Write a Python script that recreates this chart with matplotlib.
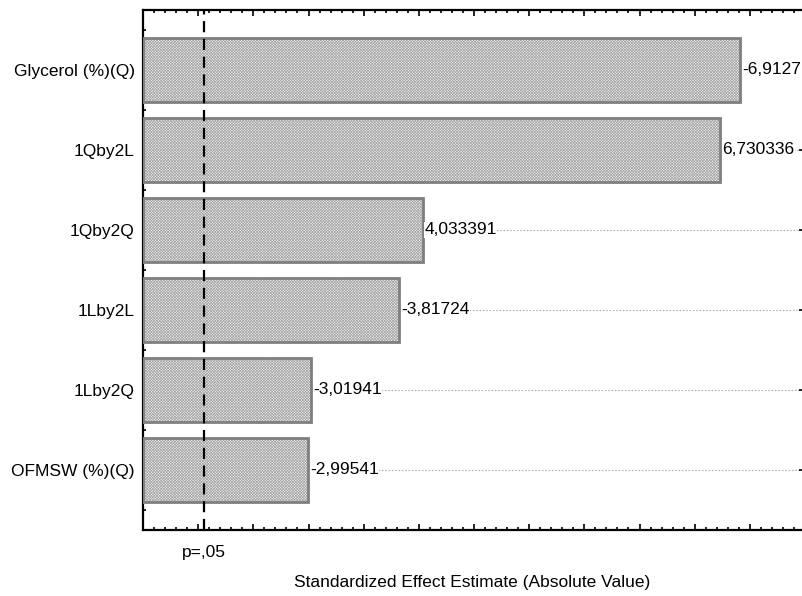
import numpy as np
import matplotlib.pyplot as plt
from matplotlib.ticker import MultipleLocator

plt.rcParams['font.family'] = ['Liberation Sans', 'DejaVu Sans']
plt.rcParams['hatch.linewidth'] = 0.5

# Pareto chart of standardized effects
effects = ['Glycerol (%)(Q)', '1Qby2L', '1Qby2Q', '1Lby2L', '1Lby2Q', 'OFMSW (%)(Q)']
estimates = [-6.9127, 6.730336, 4.033391, -3.81724, -3.01941, -2.99541]
labels = ['-6,9127', '6,730336', '4,033391', '-3,81724', '-3,01941', '-2,99541']
p_crit = 2.055

abs_est = np.abs(estimates)
ypos = np.arange(len(effects))
x_min, x_max = 1.5, 7.5
fs = 12.5

fig = plt.figure(figsize=(8.02, 5.96), dpi=100)
ax = fig.add_axes([143 / 802, 66 / 596, 662 / 802, 520 / 596])

# dotted guide lines from bar end to the right edge
ax.hlines(ypos, abs_est, x_max, colors='#b0b0b0', linestyles=(0, (1.5, 1.5)),
          linewidth=0.8, zorder=1)

# hatched fill, then grey outline
ax.barh(ypos, abs_est - x_min, left=x_min, height=0.8, color='#f2f2f2',
        edgecolor='#a4a4a4', hatch='x' * 12, linewidth=0, zorder=2)
ax.barh(ypos, abs_est - x_min, left=x_min, height=0.8, fill=False,
        edgecolor='#7f7f7f', linewidth=2, zorder=3)

for y, v, txt in zip(ypos, abs_est, labels):
    ax.text(v + 0.02, y, txt, va='center', ha='left', fontsize=fs,
            bbox=dict(facecolor='white', edgecolor='none', pad=0.3), zorder=4)

ax.axvline(p_crit, color='black', linestyle=(0, (5, 3)), linewidth=1.6, zorder=5)

ax.set_xlim(x_min, x_max)
ax.set_ylim(len(effects) - 0.25, -0.75)

ax.set_yticks(ypos)
ax.set_yticklabels(effects, fontsize=fs)
ax.yaxis.set_minor_locator(MultipleLocator(0.5))
ax.xaxis.set_major_locator(MultipleLocator(0.5))
ax.xaxis.set_minor_locator(MultipleLocator(0.1))
ax.set_xticklabels([])

ax.tick_params(which='both', direction='in', top=True, right=True, width=1.2,
               color='black')
ax.tick_params(which='major', length=4)
ax.tick_params(which='minor', length=2.5)
ax.tick_params(axis='y', which='major', pad=6)

for s in ax.spines.values():
    s.set_linewidth(1.6)
    s.set_color('black')

ax.text(p_crit, -0.028, 'p=,05', transform=ax.get_xaxis_transform(),
        ha='center', va='top', fontsize=fs)
fig.text(472 / 802, 1 - 583 / 596, 'Standardized Effect Estimate (Absolute Value)',
         ha='center', va='center', fontsize=fs)

fig.savefig('out.png', dpi=100)
